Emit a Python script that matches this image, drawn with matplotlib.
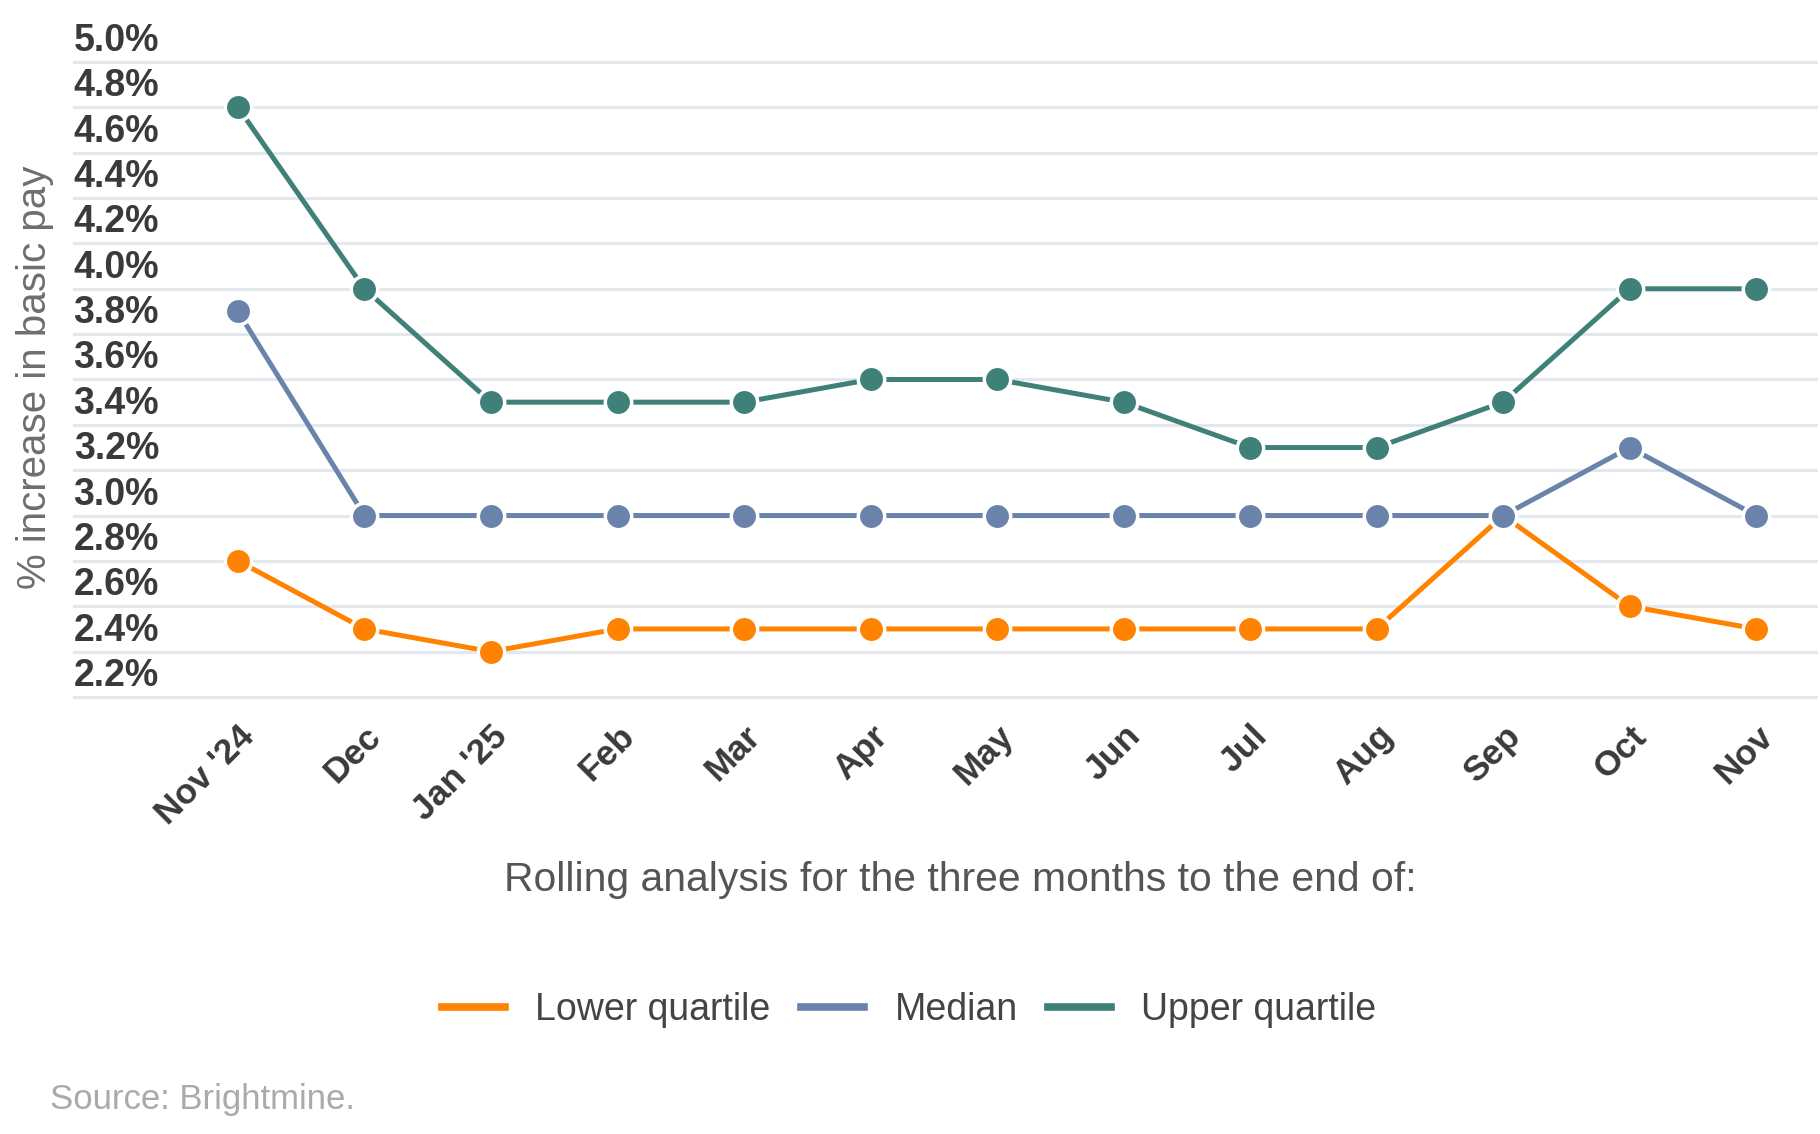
import matplotlib.pyplot as plt
from matplotlib.lines import Line2D
from matplotlib.transforms import ScaledTranslation

# Data (rolling three-month pay awards, %)
months = ["Nov '24", "Dec", "Jan '25", "Feb", "Mar", "Apr", "May",
          "Jun", "Jul", "Aug", "Sep", "Oct", "Nov"]
lower_quartile = [2.8, 2.5, 2.4, 2.5, 2.5, 2.5, 2.5, 2.5, 2.5, 2.5, 3.0, 2.6, 2.5]
median = [3.9, 3.0, 3.0, 3.0, 3.0, 3.0, 3.0, 3.0, 3.0, 3.0, 3.0, 3.3, 3.0]
upper_quartile = [4.8, 4.0, 3.5, 3.5, 3.5, 3.6, 3.6, 3.5, 3.3, 3.3, 3.5, 4.0, 4.0]
y_ticks = [2.2, 2.4, 2.6, 2.8, 3.0, 3.2, 3.4, 3.6, 3.8, 4.0, 4.2, 4.4, 4.6, 4.8, 5.0]

series = [
    ("Lower quartile", lower_quartile, "#FF8300"),
    ("Median", median, "#6A83AB"),
    ("Upper quartile", upper_quartile, "#3F8178"),
]

plt.rcParams["font.family"] = ["Liberation Sans", "DejaVu Sans"]

fig = plt.figure(figsize=(18.2, 11.34), dpi=100)
ax = fig.add_axes([0.0401, 0.3754, 0.9589, 0.5799])

x = list(range(len(months)))
for name, vals, col in series:
    ax.plot(x, vals, color=col, lw=3.6, marker="o", markersize=19,
            markerfacecolor=col, markeredgecolor="white", markeredgewidth=2.5,
            zorder=3, clip_on=False)

ax.set_xlim(-1.304, 12.49)
ax.set_ylim(2.15, 5.05)

# y axis: gridlines at ticks, labels drawn inside and nudged up
ax.set_yticks(y_ticks)
ax.set_yticklabels([f"{v:.1f}%" for v in y_ticks])
ax.tick_params(axis="y", length=0, pad=-62, labelsize=27, labelcolor="#3a3a3a")
offset = ScaledTranslation(0, 18 / 72, fig.dpi_scale_trans)
for lab in ax.get_yticklabels():
    lab.set_fontweight("bold")
    lab.set_transform(lab.get_transform() + offset)
ax.grid(axis="y", color="#e4e7ed", lw=2.2, zorder=0)

# x axis
ax.set_xticks(x)
ax.set_xticklabels(months, rotation=45, ha="right", va="top",
                   rotation_mode="anchor", fontweight="bold")
ax.tick_params(axis="x", length=0, pad=8, labelsize=25.5, labelcolor="#3a3a3a")

for s in ax.spines.values():
    s.set_visible(False)

fig.text(0.019, 0.6675, "% increase in basic pay", rotation=90,
         ha="center", va="center", fontsize=29, color="#6e6e6e")
fig.text(0.5275, 0.2240, "Rolling analysis for the three months to the end of:",
         ha="center", va="center", fontsize=29.4, color="#555555")

handles = [Line2D([0], [0], color=col, lw=5.5) for _, _, col in series]
fig.legend(handles, [n for n, _, _ in series], loc="center",
           bbox_to_anchor=(0.4995, 0.1093), ncol=3, frameon=False,
           fontsize=27, labelcolor="#444444", handlelength=1.7,
           handletextpad=0.8, columnspacing=0.8)

fig.text(0.0275, 0.030, "Source: Brightmine.", ha="left", va="center",
         fontsize=25, color="#aaaaaa")

fig.savefig("out.png", dpi=100)
